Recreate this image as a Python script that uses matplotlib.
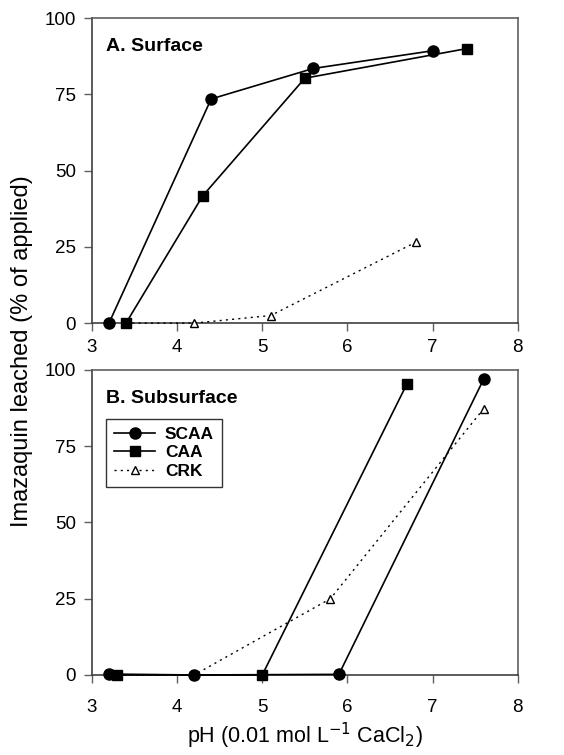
import matplotlib
matplotlib.use("Agg")
import matplotlib.pyplot as plt

plt.rcParams["font.family"] = ["Liberation Sans", "DejaVu Sans"]

# panel A: surface soils
a_scaa_x = [3.2, 4.4, 5.6, 7.0]
a_scaa_y = [0, 73.5, 83.5, 89.3]
a_caa_x = [3.4, 4.3, 5.5, 7.4]
a_caa_y = [0, 41.7, 80.3, 90.0]
a_crk_x = [3.4, 4.2, 5.1, 6.8]
a_crk_y = [0, 0, 2.5, 26.5]

# panel B: subsurface soils
b_scaa_x = [3.2, 4.2, 5.9, 7.6]
b_scaa_y = [0.3, 0, 0.2, 97.0]
b_caa_x = [3.3, 5.0, 6.7]
b_caa_y = [0, 0, 95.5]
b_crk_x = [3.3, 4.2, 5.8, 7.6]
b_crk_y = [0, 0, 25.0, 87.3]

x_ticks = [3, 4, 5, 6, 7, 8]
y_ticks = [0, 25, 50, 75, 100]

fig = plt.figure(figsize=(5.64, 7.55), dpi=100)
ax_a = fig.add_axes([0.163, 0.572, 0.755, 0.404])
ax_b = fig.add_axes([0.163, 0.106, 0.755, 0.404])

SPINE = "#606060"


def draw_panel(ax, scaa, caa, crk, title, xpad):
    ax.plot(crk[0], crk[1], color="black", linestyle=(0, (1.5, 3)), linewidth=1.0,
            marker="^", markersize=6, markerfacecolor="white", markeredgecolor="black",
            markeredgewidth=1.0, label="CRK", zorder=3)
    ax.plot(caa[0], caa[1], color="black", linewidth=1.2, marker="s", markersize=6.5,
            label="CAA", zorder=4)
    ax.plot(scaa[0], scaa[1], color="black", linewidth=1.2, marker="o", markersize=8,
            label="SCAA", zorder=5)
    ax.set_xlim(3, 8)
    ax.set_ylim(0, 100)
    ax.set_xticks(x_ticks)
    ax.set_yticks(y_ticks)
    ax.tick_params(direction="out", length=5.5, width=1, color=SPINE, labelsize=13.5)
    ax.tick_params(axis="x", pad=xpad)
    ax.tick_params(axis="y", pad=6)
    for s in ax.spines.values():
        s.set_color(SPINE)
        s.set_linewidth(1.2)
        s.set_clip_on(False)
    ax.spines["left"].set_color("#404040")
    ax.spines["bottom"].set_color("#404040")
    ax.text(0.033, 0.935, title, transform=ax.transAxes, fontsize=14,
            fontweight="bold", va="top", ha="left")


draw_panel(ax_a, (a_scaa_x, a_scaa_y), (a_caa_x, a_caa_y), (a_crk_x, a_crk_y),
           "A. Surface", 6)
draw_panel(ax_b, (b_scaa_x, b_scaa_y), (b_caa_x, b_caa_y), (b_crk_x, b_crk_y),
           "B. Subsurface", 12)

for ax in (ax_a, ax_b):
    for line in ax.get_lines():
        line.set_clip_on(False)

handles, labels = ax_b.get_legend_handles_labels()
order = [2, 1, 0]
leg = ax_b.legend([handles[i] for i in order], [labels[i] for i in order],
                  loc="upper left", bbox_to_anchor=(0.033, 0.84), frameon=True,
                  fancybox=False, edgecolor="black", prop={"weight": "bold", "size": 12.5},
                  handlelength=2.4, borderpad=0.45, labelspacing=0.2,
                  handletextpad=0.55, borderaxespad=0)
leg.get_frame().set_linewidth(1.0)

fig.text(0.039, 0.535, "Imazaquin leached (% of applied)", rotation=90,
         fontsize=17, ha="center", va="center")
fig.text(0.541, 0.016, "pH (0.01 mol L$^{-1}$ CaCl$_2$)", fontsize=15.5,
         ha="center", va="baseline")

fig.savefig("out.png", dpi=100)
